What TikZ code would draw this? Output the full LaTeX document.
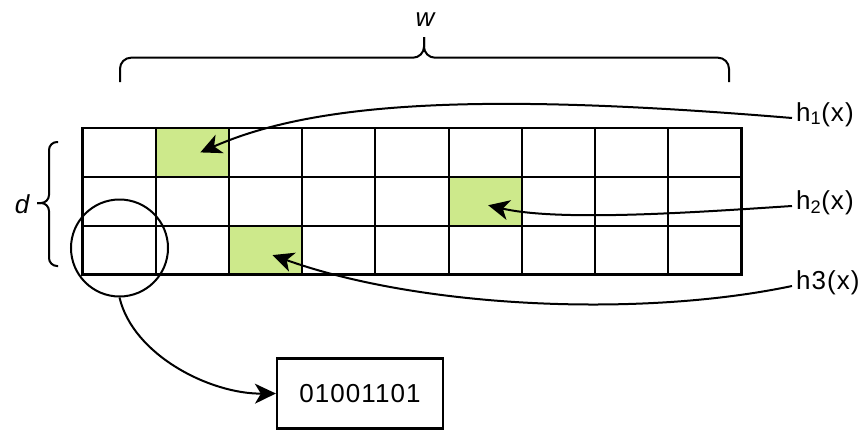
\documentclass[tikz,border=0pt]{standalone}
\usepackage{fontspec}
\setmainfont[LetterSpace=4]{Liberation Sans}
\usetikzlibrary{arrows.meta}

\definecolor{hitgreen}{RGB}{205,233,139}

\begin{document}
\begin{tikzpicture}[x=1pt,y=-1pt,
  every node/.style={font=\fontsize{26}{30}\selectfont},
  cell/.style={draw,line width=2.2pt,minimum width=73.22pt,minimum height=48.83pt,
    inner sep=0pt,outer sep=0pt},
  hit/.style={cell,fill=hitgreen},
  link/.style={line width=2pt,-{Stealth[length=21pt,width=20pt,inset=6pt]}},
  bracket/.style={line width=2pt,rounded corners=11pt},
  lbl/.style={inner sep=0pt,anchor=base west},
]
\useasboundingbox (0,0) rectangle (860,431);

% counter array: d rows, w columns
\foreach \r in {0,1,2}{
  \foreach \c in {0,...,8}{
    \node[cell] (c-\r-\c) at ({82.5+73.22*(\c+0.5)},{128+48.83*(\r+0.5)}) {};
  }
}
\node[hit] at (c-0-1) {};
\node[hit] at (c-1-5) {};
\node[hit] at (c-2-2) {};

% width brace and label
\draw[bracket] (120,82) -- (120,57.7) -- (424,57.7) -- (424,37);
\draw[bracket] (729,82) -- (729,57.7) -- (424,57.7) -- (424,37);
\node[anchor=base] (wl) at (425,26) {\itshape w};

% depth brace and label
\draw[bracket,rounded corners=8pt] (58,142) -- (49,142) -- (49,203) -- (37,203);
\draw[bracket,rounded corners=8pt] (58,266) -- (49,266) -- (49,203) -- (37,203);
\node[anchor=base] (dl) at (22,213) {\itshape d};

% hash function labels
\node[lbl] (h1) at (796,121) {h\textsubscript{1}(x)};
\node[lbl] (h2) at (796,209) {h\textsubscript{2}(x)};
\node[lbl] (h3) at (796,289) {h3(x)};

\draw[link] ([xshift=-4pt,yshift=3pt]h1.base west)
  .. controls (480,92) and (315,102) .. ([xshift=8pt]c-0-1.center);
\draw[link] ([xshift=-4pt,yshift=3pt]h2.base west)
  .. controls (700,212) and (560,222) .. ([xshift=3pt,yshift=-4pt]c-1-5.center);
\draw[link] ([xshift=-4pt,yshift=3pt]h3.base west)
  .. controls (640,318) and (420,308) .. ([xshift=7pt,yshift=-5pt]c-2-2.center);

% selected counter and its stored bits
\node[circle,draw,line width=2pt,minimum size=97pt,inner sep=0pt] (sel) at (119.5,248) {};
\node[draw,line width=2.2pt,minimum width=166pt,minimum height=70pt,inner sep=0pt]
  (bits) at (360,393.5) {01001101};
\draw[link] (sel.south) .. controls (133,355) and (210,394) .. (bits.west);
\end{tikzpicture}
\end{document}
